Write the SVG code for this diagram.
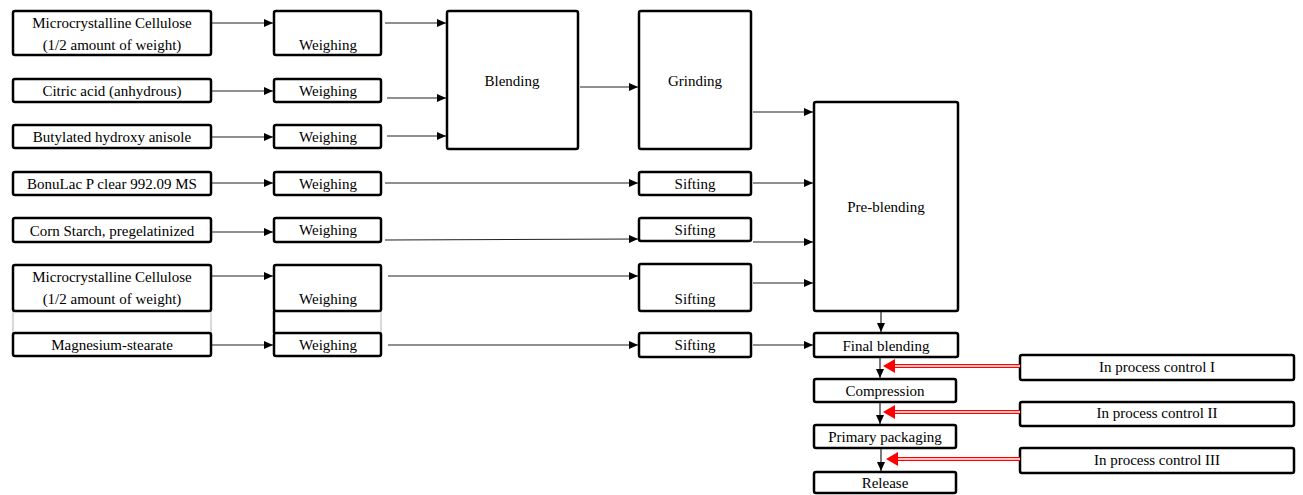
<svg xmlns="http://www.w3.org/2000/svg" width="1303" height="495" viewBox="0 0 1303 495">
<style>
.box{fill:#fff;stroke:#000;stroke-width:2.5}
text{font-family:'Liberation Serif','Times New Roman',Times,serif;font-size:15px;fill:#000;text-anchor:middle}
.c{stroke:#222;stroke-width:1.2;fill:none;marker-end:url(#ah)}
.gray{stroke:#ccc;stroke-width:1.5}
.red{stroke:#f00;stroke-width:4;fill:none}
.redin{stroke:#fff;stroke-width:1.4;fill:none}
</style>
<defs>
<marker id="ah" markerWidth="9" markerHeight="8" refX="9" refY="4" orient="auto" markerUnits="userSpaceOnUse">
<path d="M0,0 L9,4 L0,8 Z" fill="#000"/>
</marker>
</defs>
<rect width="1303" height="495" fill="#fff"/>

<g id="gray-links">
<line class="gray" x1="13" y1="311" x2="13" y2="333"/>
<line class="gray" x1="211" y1="311" x2="211" y2="333"/>
<line x1="274" y1="311" x2="274" y2="333" stroke="#000" stroke-width="2.5"/>
<line class="gray" x1="381" y1="311" x2="381" y2="333"/>
</g>

<g font-family="Liberation Serif, Times New Roman, serif">
<g id="n-mcc1"><rect class="box" x="13" y="11" width="198" height="44" rx="2"/><text x="112" y="28">Microcrystalline Cellulose</text><text x="112" y="50">(1/2 amount of weight)</text></g>
<g id="n-citric"><rect class="box" x="13" y="79" width="198" height="23" rx="2"/><text x="112" y="96">Citric acid (anhydrous)</text></g>
<g id="n-bha"><rect class="box" x="13" y="125" width="198" height="23" rx="2"/><text x="112" y="142">Butylated hydroxy anisole</text></g>
<g id="n-bonulac"><rect class="box" x="13" y="172" width="198" height="23" rx="2"/><text x="112" y="189">BonuLac P clear 992.09 MS</text></g>
<g id="n-corn"><rect class="box" x="13" y="218" width="198" height="24" rx="2"/><text x="112" y="236">Corn Starch, pregelatinized</text></g>
<g id="n-mcc2"><rect class="box" x="13" y="265" width="198" height="46" rx="2"/><text x="112" y="282">Microcrystalline Cellulose</text><text x="112" y="304">(1/2 amount of weight)</text></g>
<g id="n-mg"><rect class="box" x="13" y="333" width="198" height="23" rx="2"/><text x="112" y="350">Magnesium-stearate</text></g>

<g id="n-w1"><rect class="box" x="274" y="11" width="107" height="44" rx="2"/><text x="328" y="50">Weighing</text></g>
<g id="n-w2"><rect class="box" x="274" y="79" width="107" height="23" rx="2"/><text x="328" y="96">Weighing</text></g>
<g id="n-w3"><rect class="box" x="274" y="125" width="107" height="23" rx="2"/><text x="328" y="142">Weighing</text></g>
<g id="n-w4"><rect class="box" x="274" y="172" width="107" height="23" rx="2"/><text x="328" y="189">Weighing</text></g>
<g id="n-w5"><rect class="box" x="274" y="218" width="107" height="24" rx="2"/><text x="328" y="235">Weighing</text></g>
<g id="n-w6"><rect class="box" x="274" y="265" width="107" height="46" rx="2"/><text x="328" y="304">Weighing</text></g>
<g id="n-w7"><rect class="box" x="274" y="333" width="107" height="23" rx="2"/><text x="328" y="350">Weighing</text></g>

<g id="n-blending"><rect class="box" x="447" y="11" width="131" height="138" rx="2"/><text x="512" y="86">Blending</text></g>
<g id="n-grinding"><rect class="box" x="639" y="11" width="112" height="138" rx="2"/><text x="695" y="86">Grinding</text></g>

<g id="n-s1"><rect class="box" x="639" y="172" width="112" height="23" rx="2"/><text x="695" y="189">Sifting</text></g>
<g id="n-s2"><rect class="box" x="639" y="218" width="112" height="23" rx="2"/><text x="695" y="235">Sifting</text></g>
<g id="n-s3"><rect class="box" x="639" y="264" width="112" height="47" rx="2"/><text x="695" y="304">Sifting</text></g>
<g id="n-s4"><rect class="box" x="639" y="333" width="112" height="24" rx="2"/><text x="695" y="350">Sifting</text></g>

<g id="n-preblending"><rect class="box" x="814" y="102" width="144" height="209" rx="2"/><text x="886" y="212">Pre-blending</text></g>
<g id="n-final"><rect class="box" x="814" y="333" width="144" height="24" rx="2"/><text x="886" y="351">Final blending</text></g>
<g id="n-compression"><rect class="box" x="814" y="379" width="142" height="23" rx="2"/><text x="885" y="396">Compression</text></g>
<g id="n-primary"><rect class="box" x="814" y="425" width="142" height="23" rx="2"/><text x="885" y="442">Primary packaging</text></g>
<g id="n-release"><rect class="box" x="814" y="472" width="142" height="21" rx="2"/><text x="885" y="488">Release</text></g>

<g id="n-ipc1"><rect class="box" x="1020" y="355" width="274" height="25" rx="2"/><text x="1157" y="372">In process control I</text></g>
<g id="n-ipc2"><rect class="box" x="1020" y="402" width="274" height="24" rx="2"/><text x="1157" y="418">In process control II</text></g>
<g id="n-ipc3"><rect class="box" x="1020" y="448" width="274" height="25" rx="2"/><text x="1157" y="465">In process control III</text></g>
</g>

<g id="connectors">
<line class="c" x1="212" y1="23" x2="273" y2="23"/>
<line class="c" x1="385" y1="23" x2="446" y2="23"/>
<line class="c" x1="212" y1="91" x2="273" y2="91"/>
<line class="c" x1="387" y1="98" x2="446" y2="98"/>
<line class="c" x1="212" y1="137" x2="273" y2="137"/>
<line class="c" x1="387" y1="136" x2="446" y2="136"/>
<line class="c" x1="580" y1="87" x2="638" y2="87"/>
<line class="c" x1="753" y1="112" x2="813" y2="112"/>
<line class="c" x1="212" y1="183" x2="273" y2="183"/>
<line class="c" x1="385" y1="183" x2="638" y2="183"/>
<line class="c" x1="753" y1="183" x2="813" y2="183"/>
<line class="c" x1="212" y1="232" x2="273" y2="232"/>
<line class="c" x1="385" y1="240" x2="638" y2="239"/>
<line class="c" x1="753" y1="242" x2="813" y2="242"/>
<line class="c" x1="212" y1="276" x2="273" y2="276"/>
<line class="c" x1="388" y1="276" x2="638" y2="276"/>
<line class="c" x1="753" y1="283" x2="813" y2="283"/>
<line class="c" x1="212" y1="345" x2="273" y2="345"/>
<line class="c" x1="388" y1="345" x2="638" y2="345"/>
<line class="c" x1="753" y1="345" x2="813" y2="345"/>
<line class="c" x1="881" y1="312" x2="881" y2="332"/>
<line class="c" x1="880" y1="358" x2="880" y2="378"/>
<line class="c" x1="880" y1="403" x2="880" y2="424"/>
<line class="c" x1="881" y1="449" x2="881" y2="471"/>
<g id="ipc-arrows">
<line class="red" x1="1020" y1="366" x2="892" y2="366"/><line class="redin" x1="1020" y1="366" x2="893" y2="366"/><path d="M883,366 L895,359 L895,373 Z" fill="#f00"/>
<line class="red" x1="1020" y1="412" x2="892" y2="412"/><line class="redin" x1="1020" y1="412" x2="893" y2="412"/><path d="M883,412 L895,405 L895,419 Z" fill="#f00"/>
<line class="red" x1="1020" y1="459" x2="895" y2="459"/><line class="redin" x1="1020" y1="459" x2="896" y2="459"/><path d="M886,459 L898,452 L898,466 Z" fill="#f00"/>
</g>
</g>
</svg>
